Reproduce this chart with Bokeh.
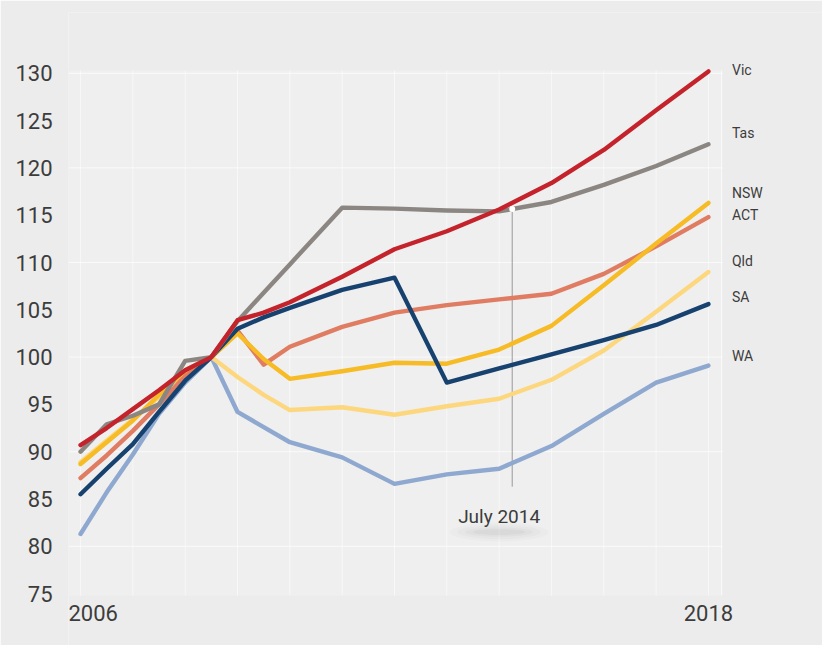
from bokeh.plotting import figure
from bokeh.models import Range1d, FixedTicker
from bokeh.core.properties import value
from bokeh.embed import file_html
from bokeh.resources import INLINE

# ---- data ----
years = [2006, 2006.5, 2007, 2007.5, 2008, 2008.5, 2009, 2009.5, 2010,
         2011, 2012, 2013, 2014, 2015, 2016, 2017, 2018]
vic = [90.7, 92.5, 94.5, 96.5, 98.6, 100, 103.9, 104.7, 105.8, 108.5, 111.4, 113.3, 115.6, 118.4, 121.9, 126.1, 130.2]
tas = [90.0, 92.9, 93.8, 95.0, 99.6, 100, 103.8, 106.8, 109.8, 115.8, 115.7, 115.5, 115.4, 116.4, 118.2, 120.2, 122.5]
nsw = [88.7, 91.0, 93.3, 96.0, 98.6, 100, 102.5, 99.8, 97.7, 98.5, 99.4, 99.3, 100.8, 103.3, 107.6, 112.0, 116.3]
act = [87.2, 89.6, 92.2, 95.0, 98.0, 100, 102.8, 99.2, 101.1, 103.2, 104.7, 105.5, 106.1, 106.7, 108.8, 111.7, 114.8]
qld = [88.9, 91.2, 93.4, 95.8, 98.4, 100, 97.9, 96.0, 94.4, 94.7, 93.9, 94.8, 95.6, 97.6, 100.7, 104.8, 109.0]
sa = [85.5, 88.2, 90.8, 94.2, 97.5, 100, 103.0, 104.2, 105.2, 107.1, 108.4, 97.3, 98.8, 100.3, 101.8, 103.4, 105.6]
wa = [81.3, 85.7, 89.7, 94.0, 97.3, 100, 94.2, 92.6, 91.0, 89.4, 86.6, 87.6, 88.2, 90.6, 94.0, 97.3, 99.1]

series_names = ["WA", "Qld", "ACT", "NSW", "SA", "Tas", "Vic"]
series_values = [wa, qld, act, nsw, sa, tas, vic]
series_colors = ["#8ea8d0", "#fdd77e", "#df7c62", "#f6bb25", "#17426f", "#8b8682", "#c4232b"]

y_ticks = [75, 80, 85, 90, 95, 100, 105, 110, 115, 120, 125, 130]
x_tick_labels = ["2006", "2018"]

marker_year = 2014.25
marker_text = "July 2014"
marker_top = 115.5
marker_bottom = 86.3

# ---- layout (positions only) ----
label_order = ["Vic", "Tas", "NSW", "ACT", "Qld", "SA", "WA"]
label_y = [130.4, 123.7, 117.4, 115.0, 110.2, 106.4, 100.1]
area_x0, area_x1 = 2005.77, 2018.27
area_y0, area_y1 = 74.8, 130.3

FONT = "Roboto"
TXT = "#3c3c3c"
BG = "#ececec"

p = figure(width=822, height=645, output_backend="svg", toolbar_location=None,
           x_range=Range1d(area_x0, 2020.18), y_range=Range1d(69.51, 136.43),
           min_border_left=68, min_border_right=0, min_border_top=12, min_border_bottom=0)

p.background_fill_color = BG
p.border_fill_color = BG
p.outline_line_color = None
p.xgrid.visible = False
p.ygrid.visible = False
p.xaxis.visible = False

ya = p.yaxis[0]
ya.ticker = FixedTicker(ticks=y_ticks)
ya.axis_line_color = None
ya.major_tick_line_color = None
ya.minor_tick_line_color = None
ya.major_label_text_font = FONT
ya.major_label_text_font_size = "22px"
ya.major_label_text_color = TXT
ya.major_label_standoff = 10

# plot area background
p.quad(left=[area_x0], right=[area_x1], bottom=[area_y0], top=[area_y1],
       fill_color="#efefef", line_color=None)

# faint grid
grid_years = list(range(2006, 2019)) + [2018.25]
p.segment(x0=grid_years, y0=[area_y0] * len(grid_years), x1=grid_years, y1=[area_y1] * len(grid_years),
          line_color="#ffffff", line_alpha=0.55, line_width=1)
grid_vals = [80, 90, 100, 110, 120, 130]
p.segment(x0=[area_x0] * len(grid_vals), y0=grid_vals, x1=[area_x1] * len(grid_vals), y1=grid_vals,
          line_color="#ffffff", line_alpha=0.7, line_width=1)

# soft shadow under the marker label
for w, h, a in [(1.9, 2.0, 0.015), (1.6, 1.5, 0.02), (1.3, 1.0, 0.025), (1.0, 0.6, 0.03)]:
    p.ellipse(x=[2014.0], y=[81.5], width=[w], height=[h],
              fill_color="#000000", fill_alpha=a, line_color=None)

# marker vertical line
p.segment(x0=[marker_year], y0=[marker_bottom], x1=[marker_year], y1=[marker_top],
          line_color="#9a9a9a", line_width=1)

for name, vals, col in zip(series_names, series_values, series_colors):
    p.line(years, vals, line_color=col, line_width=4.4, line_join="round", line_cap="round")

p.scatter([marker_year], [115.65], size=6, fill_color="#ffffff", line_color=None)

p.text(x=[2014.0], y=[83.2], text=[marker_text], text_align="center",
       text_baseline="middle", text_font=value(FONT), text_font_size="19px",
       text_color=TXT)

p.text(x=[2018.45] * len(label_order), y=label_y, text=label_order, text_align="left",
       text_baseline="middle", text_font=value(FONT), text_font_size="14px",
       text_color=TXT)

x_label_pos = [2005.77, 2018.0]
p.text(x=[x_label_pos[0]], y=[72.9], text=[x_tick_labels[0]], text_align="left",
       text_baseline="middle", text_font=value(FONT), text_font_size="22px", text_color=TXT)
p.text(x=[x_label_pos[1]], y=[72.9], text=[x_tick_labels[1]], text_align="center",
       text_baseline="middle", text_font=value(FONT), text_font_size="22px", text_color=TXT)

open("out.html", "w").write(file_html(p, INLINE))
